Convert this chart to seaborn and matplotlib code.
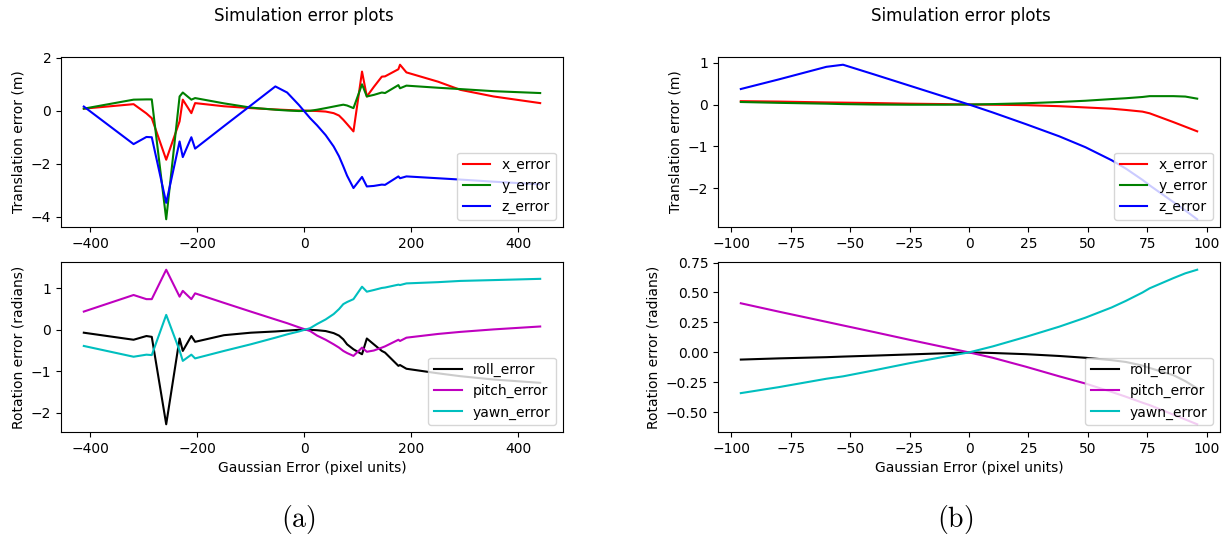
import matplotlib
matplotlib.use("Agg")
import matplotlib.pyplot as plt
import seaborn as sns
import pandas as pd

plt.rcParams['mathtext.fontset'] = 'cm'

# ---- (a) data ----
x_a = [-412, -319, -295, -285, -258, -233, -227, -211, -204, -150, -100, -54, -32, -10, 11,
       24, 40, 55, 65, 73, 80, 92, 108, 117, 130, 145, 151, 176, 179, 191, 250, 292, 354, 441]
x_err_a = [0.08, 0.25, -0.10, -0.28, -1.85, -0.40, 0.42, -0.09, 0.29, 0.17, 0.10, 0.05, 0.03, 0.01, 0.00,
           -0.01, -0.03, -0.09, -0.18, -0.34, -0.50, -0.78, 1.48, 0.54, 0.90, 1.29, 1.30, 1.57, 1.74, 1.45,
           1.10, 0.79, 0.54, 0.29]
y_err_a = [0.08, 0.42, 0.43, 0.43, -4.10, 0.54, 0.69, 0.42, 0.48, 0.28, 0.12, 0.04, 0.01, -0.01, 0.00,
           0.04, 0.10, 0.16, 0.20, 0.23, 0.20, 0.10, 1.00, 0.54, 0.60, 0.69, 0.67, 0.97, 0.85, 0.95,
           0.87, 0.82, 0.74, 0.67]
z_err_a = [0.16, -1.26, -0.99, -1.00, -3.48, -1.16, -1.75, -1.00, -1.43, -0.58, 0.20, 0.92, 0.69, 0.22, -0.28,
           -0.55, -0.92, -1.35, -1.72, -2.10, -2.45, -2.92, -2.50, -2.86, -2.84, -2.79, -2.80, -2.48, -2.55,
           -2.48, -2.55, -2.60, -2.68, -2.78]
roll_a = [-0.07, -0.24, -0.15, -0.17, -2.28, -0.21, -0.51, -0.15, -0.29, -0.13, -0.07, -0.04, -0.02, 0.00, 0.00,
          -0.01, -0.03, -0.08, -0.14, -0.23, -0.35, -0.47, -0.59, -0.21, -0.35, -0.51, -0.55, -0.87, -0.85,
          -0.94, -1.05, -1.12, -1.20, -1.28]
pitch_a = [0.44, 0.84, 0.74, 0.74, 1.45, 0.80, 0.94, 0.74, 0.88, 0.65, 0.44, 0.25, 0.16, 0.06, -0.03,
           -0.14, -0.24, -0.35, -0.43, -0.51, -0.56, -0.63, -0.43, -0.53, -0.50, -0.43, -0.40, -0.24, -0.27,
           -0.19, -0.10, -0.05, 0.01, 0.08]
yaw_a = [-0.39, -0.65, -0.60, -0.61, 0.36, -0.50, -0.75, -0.60, -0.69, -0.51, -0.35, -0.19, -0.11, -0.04, 0.04,
         0.14, 0.25, 0.38, 0.50, 0.62, 0.67, 0.74, 1.04, 0.92, 0.96, 1.01, 1.02, 1.09, 1.08, 1.12,
         1.15, 1.18, 1.20, 1.23]

# ---- (b) data ----
x_b = [-96, -80, -60, -53, -40, -25, -10, 0, 10, 24, 38, 49, 60, 66, 73, 76, 86, 91, 96]
x_err_b = [0.08, 0.07, 0.05, 0.045, 0.035, 0.02, 0.01, 0.0, -0.005, -0.015, -0.04, -0.07, -0.10, -0.13,
           -0.17, -0.21, -0.42, -0.53, -0.64]
y_err_b = [0.06, 0.04, 0.02, 0.01, 0.0, -0.005, -0.005, 0.0, 0.01, 0.03, 0.06, 0.09, 0.13, 0.15,
           0.18, 0.20, 0.20, 0.19, 0.14]
z_err_b = [0.37, 0.60, 0.90, 0.95, 0.72, 0.45, 0.18, 0.0, -0.19, -0.47, -0.76, -1.02, -1.33, -1.53,
           -1.80, -1.93, -2.33, -2.53, -2.74]
roll_b = [-0.06, -0.05, -0.04, -0.035, -0.027, -0.017, -0.007, 0.0, -0.005, -0.015, -0.03, -0.045, -0.065,
          -0.08, -0.11, -0.13, -0.19, -0.24, -0.30]
pitch_b = [0.41, 0.34, 0.255, 0.225, 0.17, 0.105, 0.042, 0.0, -0.045, -0.12, -0.20, -0.26, -0.33, -0.37,
           -0.42, -0.44, -0.52, -0.56, -0.60]
yaw_b = [-0.34, -0.29, -0.22, -0.20, -0.15, -0.09, -0.035, 0.0, 0.05, 0.13, 0.215, 0.29, 0.375, 0.43,
         0.50, 0.535, 0.62, 0.66, 0.69]

trans_labels = ["x_error", "y_error", "z_error"]
trans_colors = ["r", "g", "b"]
rot_labels = ["roll_error", "pitch_error", "yawn_error"]
rot_colors = ["k", "m", "c"]

W, H = 1227, 536
fig = plt.figure(figsize=(W / 100, H / 100), dpi=100)


def frac(x0, y0, x1, y1):
    return [x0 / W, 1 - y1 / H, (x1 - x0) / W, (y1 - y0) / H]


def draw(ax, xs, series, labels, colors):
    for ys, lab, col in zip(series, labels, colors):
        df = pd.DataFrame({"x": xs, "y": ys})
        sns.lineplot(data=df, x="x", y="y", ax=ax, color=col, label=lab,
                     estimator=None, sort=False, linewidth=1.5)
    ax.legend(loc="lower right", fontsize=10)
    ax.set_xlabel("")
    ax.set_ylabel("")


ax1 = fig.add_axes(frac(61, 57, 563, 227))
ax2 = fig.add_axes(frac(61, 262, 563, 432))
ax3 = fig.add_axes(frac(718, 57, 1220, 227))
ax4 = fig.add_axes(frac(718, 262, 1220, 432))

draw(ax1, x_a, [x_err_a, y_err_a, z_err_a], trans_labels, trans_colors)
draw(ax2, x_a, [roll_a, pitch_a, yaw_a], rot_labels, rot_colors)
draw(ax3, x_b, [x_err_b, y_err_b, z_err_b], trans_labels, trans_colors)
draw(ax4, x_b, [roll_b, pitch_b, yaw_b], rot_labels, rot_colors)

for ax in (ax1, ax3):
    ax.set_ylabel("Translation error (m)", fontsize=10)
for ax in (ax2, ax4):
    ax.set_ylabel("Rotation error (radians)", fontsize=10)
    ax.set_xlabel("Gaussian Error (pixel units)", fontsize=10)

ax1.set_yticks([-4, -2, 0, 2])
ax2.set_yticks([-2, -1, 0, 1])
ax3.set_yticks([-2, -1, 0, 1])
ax4.set_yticks([-0.5, -0.25, 0.0, 0.25, 0.5, 0.75])
for ax in (ax1, ax2):
    ax.set_xticks([-400, -200, 0, 200, 400])
for ax in (ax3, ax4):
    ax.set_xticks([-100, -75, -50, -25, 0, 25, 50, 75, 100])

fig.text(304 / W, 1 - 16 / H, "Simulation error plots", fontsize=12, ha="center", va="center")
fig.text(961 / W, 1 - 16 / H, "Simulation error plots", fontsize=12, ha="center", va="center")
fig.text(298 / W, 1 - 520 / H, r"$\mathrm{(a)}$", fontsize=20, ha="center", va="center")
fig.text(955 / W, 1 - 520 / H, r"$\mathrm{(b)}$", fontsize=20, ha="center", va="center")

fig.savefig("out.png", dpi=100)
